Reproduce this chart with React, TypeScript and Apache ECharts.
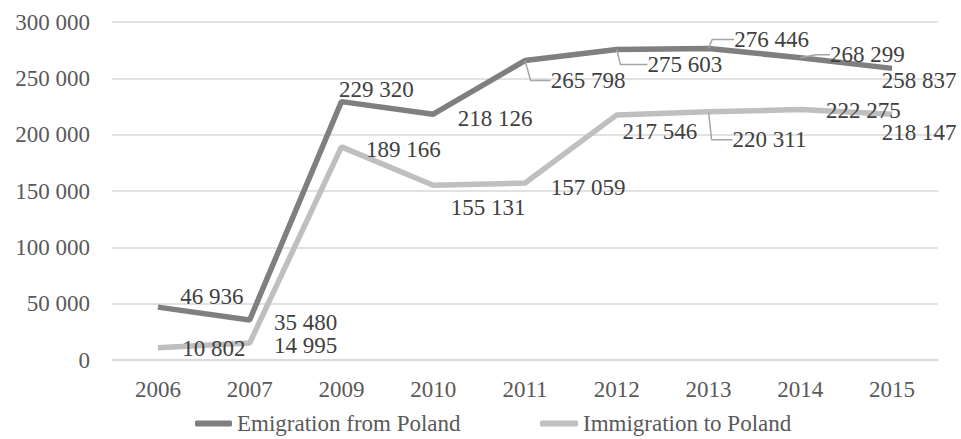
import React, { useEffect, useRef } from "react";
import * as echarts from "echarts";

const categories = ["2006", "2007", "2009", "2010", "2011", "2012", "2013", "2014", "2015"];
const emigration = [46936, 35480, 229320, 218126, 265798, 275603, 276446, 268299, 258837];
const immigration = [10802, 14995, 189166, 155131, 157059, 217546, 220311, 222275, 218147];
const seriesNames = ["Emigration from Poland", "Immigration to Poland"];

// label offsets (dx, dy) from each point, in pixels
const emOffsets = [[54, -11], [56, 2], [35, -12], [62, 4], [63, 20], [68, 15], [63, -9], [67, -3], [27, 12]];
const imOffsets = [[56, 1], [56, 2], [62, 3], [55, 22], [63, 4], [43, 17], [61, 28], [63, 1], [27, 18]];
// leader lines: [dataIndex, horizontal length]
const emLeaders = [[4, 20], [5, 27], [6, 22], [7, 14]];
const imLeaders = [[6, 21]];

const fmt = (v: number) => String(v).replace(/\B(?=(\d{3})+(?!\d))/g, " ");
const FONT = "'Liberation Serif', 'Times New Roman', serif";

function buildData(values: number[], leaders: number[][]) {
  return values.map((v, i) => {
    const l = leaders.find((x) => x[0] === i);
    return {
      value: v,
      labelLine: l ? { show: true, length2: l[1] } : { show: false },
    };
  });
}

export default function App() {
  const ref = useRef<HTMLDivElement>(null);
  useEffect(() => {
    if (!ref.current) return;
    const chart = echarts.init(ref.current, null, { renderer: "svg" });
    const labelCommon = {
      show: true,
      position: "inside",
      fontFamily: FONT,
      fontSize: 23,
      color: "#404040",
      formatter: (p: any) => fmt(p.value),
    };
    const labelLineCommon = {
      show: false,
      length2: 20,
      lineStyle: { color: "#a6a6a6", width: 1.5 },
    };
    chart.setOption({
      animation: false,
      backgroundColor: "#ffffff",
      grid: { left: 112, right: 23, top: 22, bottom: 79 },
      xAxis: {
        type: "category",
        data: categories,
        boundaryGap: true,
        axisLine: { show: true, lineStyle: { color: "#d9d9d9", width: 1.5 } },
        axisTick: { show: false },
        axisLabel: { fontFamily: FONT, fontSize: 23, color: "#595959", margin: 18 },
      },
      yAxis: {
        type: "value",
        min: 0,
        max: 300000,
        interval: 50000,
        axisLine: { show: false },
        axisTick: { show: false },
        splitLine: { lineStyle: { color: "#d9d9d9", width: 1.5 } },
        axisLabel: {
          fontFamily: FONT,
          fontSize: 23,
          color: "#595959",
          margin: 22,
          formatter: (v: number) => fmt(v),
        },
      },
      legend: [
        {
          data: [{ name: seriesNames[0], itemStyle: { color: "#7f7f7f", opacity: 1 } }],
          left: 190,
          top: 407,
          icon: "roundRect",
          itemWidth: 37,
          itemHeight: 6,
          textStyle: { fontFamily: FONT, fontSize: 23, color: "#595959" },
        },
        {
          data: [{ name: seriesNames[1], itemStyle: { color: "#bfbfbf", opacity: 1 } }],
          left: 535,
          top: 407,
          icon: "roundRect",
          itemWidth: 38,
          itemHeight: 6,
          textStyle: { fontFamily: FONT, fontSize: 23, color: "#595959" },
        },
      ],
      series: [
        {
          name: seriesNames[0],
          type: "line",
          data: buildData(emigration, emLeaders),
          color: "#7f7f7f",
          symbol: "circle",
          symbolSize: 0.1,
          showSymbol: true,
          lineStyle: { color: "#7f7f7f", width: 5.5 },
          itemStyle: { color: "#7f7f7f" },
          label: labelCommon,
          labelLine: labelLineCommon,
        },
        {
          name: seriesNames[1],
          type: "line",
          data: buildData(immigration, imLeaders),
          color: "#bfbfbf",
          symbol: "circle",
          symbolSize: 0.1,
          showSymbol: true,
          lineStyle: { color: "#bfbfbf", width: 5.5 },
          itemStyle: { color: "#bfbfbf" },
          label: labelCommon,
          labelLine: labelLineCommon,
        },
      ],
      labelLayout: (params: any) => {
        const offs = params.seriesIndex === 0 ? emOffsets : imOffsets;
        const o = offs[params.dataIndex] || [0, 0];
        return { dx: o[0], dy: o[1] };
      },
    });
    return () => chart.dispose();
  }, []);
  return (
    <div
      ref={ref}
      style={{ position: "absolute", left: 0, top: 0, width: 961, height: 439 }}
    />
  );
}
